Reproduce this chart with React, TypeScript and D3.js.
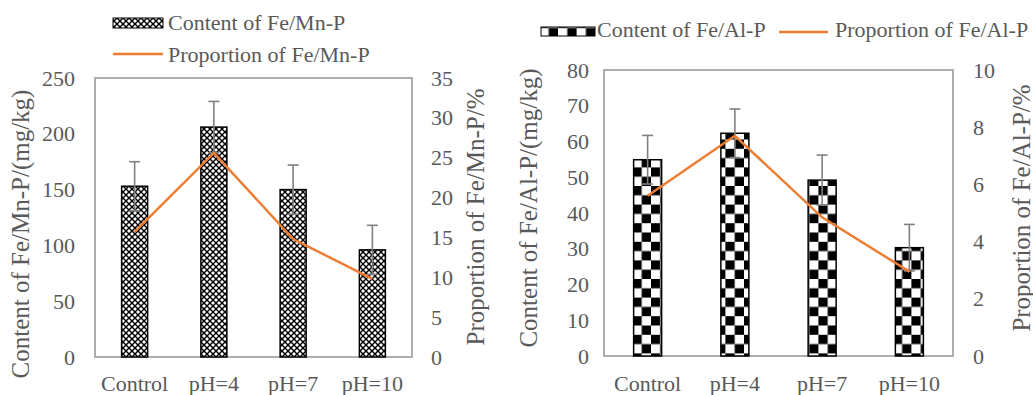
import React from "react";
import * as d3 from "d3";

const categories = ["Control", "pH=4", "pH=7", "pH=10"];
const mnContent = [153, 206, 150, 96];
const mnError = [22, 23, 22, 22];
const mnProportion = [15.7, 25.6, 14.8, 9.8];
const mnLeftTicks = [0, 50, 100, 150, 200, 250];
const mnRightTicks = [0, 5, 10, 15, 20, 25, 30, 35];

const alContent = [54.9, 62.3, 49.2, 30.3];
const alError = [6.8, 6.8, 7.0, 6.5];
const alProportion = [5.6, 7.7, 4.85, 2.95];
const alLeftTicks = [0, 10, 20, 30, 40, 50, 60, 70, 80];
const alRightTicks = [0, 2, 4, 6, 8, 10];

const TEXT = "#595959";
const FRAME = "#a6a6a6";
const ORANGE = "#ED7D31";
const ERR = "#808080";
const FONT = "'Liberation Serif', 'Times New Roman', serif";
const FS = 22;
const TFS = 25;

type PanelProps = {
  left: number; right: number; top: number; bottom: number;
  content: number[]; err: number[]; prop: number[];
  leftTicks: number[]; rightTicks: number[];
  barW: number; fill: string;
  leftLabelX: number; rightLabelX: number;
  leftTitle: string; rightTitle: string;
  leftTitleX: number; rightTitleX: number;
  leftTitleY: number; rightTitleY: number;
};

function Panel(p: PanelProps) {
  const x = d3.scaleBand<string>().domain(categories).range([p.left, p.right]);
  const yL = d3.scaleLinear().domain([0, p.leftTicks[p.leftTicks.length - 1]]).range([p.bottom, p.top]);
  const yR = d3.scaleLinear().domain([0, p.rightTicks[p.rightTicks.length - 1]]).range([p.bottom, p.top]);
  const cx = (c: string) => (x(c) as number) + x.bandwidth() / 2;
  const line = d3.line<number>().x((_, i) => cx(categories[i])).y((d) => yR(d));
  return (
    <g>
      <rect x={p.left} y={p.top} width={p.right - p.left} height={p.bottom - p.top} fill="none" stroke={FRAME} strokeWidth={1.8} />
      {p.leftTicks.map((t) => (
        <text key={"l" + t} x={p.leftLabelX} y={yL(t)} textAnchor="end" dominantBaseline="central" fill={TEXT} fontSize={FS} fontFamily={FONT}>{t}</text>
      ))}
      {p.rightTicks.map((t) => (
        <text key={"r" + t} x={p.rightLabelX} y={yR(t)} textAnchor="start" dominantBaseline="central" fill={TEXT} fontSize={FS} fontFamily={FONT}>{t}</text>
      ))}
      {categories.map((c) => (
        <text key={"x" + c} x={cx(c)} y={391} textAnchor="middle" fill={TEXT} fontSize={FS} fontFamily={FONT}>{c}</text>
      ))}
      {categories.map((c, i) => (
        <rect key={"b" + c} x={cx(c) - p.barW / 2} y={yL(p.content[i])} width={p.barW} height={p.bottom - yL(p.content[i])} fill={p.fill} stroke="#000" strokeWidth={1.5} />
      ))}
      {categories.map((c, i) => {
        const xc = cx(c);
        const y1 = yL(p.content[i] + p.err[i]);
        const y0 = yL(p.content[i] - p.err[i]);
        return (
          <g key={"e" + c} stroke={ERR} strokeWidth={1.6}>
            <line x1={xc} x2={xc} y1={y1} y2={y0} />
            <line x1={xc - 5.5} x2={xc + 5.5} y1={y1} y2={y1} />
            <line x1={xc - 5.5} x2={xc + 5.5} y1={y0} y2={y0} />
          </g>
        );
      })}
      <path d={line(p.prop) || ""} fill="none" stroke={ORANGE} strokeWidth={2.5} />
      <text transform={`translate(${p.leftTitleX},${p.leftTitleY}) rotate(-90)`} textAnchor="middle" dominantBaseline="central" fill={TEXT} fontSize={TFS} fontFamily={FONT}>{p.leftTitle}</text>
      <text transform={`translate(${p.rightTitleX},${p.rightTitleY}) rotate(-90)`} textAnchor="middle" dominantBaseline="central" fill={TEXT} fontSize={TFS} fontFamily={FONT}>{p.rightTitle}</text>
    </g>
  );
}

export default function App() {
  return (
    <svg width={1033} height={395} style={{ position: "absolute", left: 0, top: 0, background: "#fff" }}>
      <defs>
        <pattern id="mesh" patternUnits="userSpaceOnUse" width={6} height={6}>
          <rect width={6} height={6} fill="#000" />
          <polygon points="3,1 5,3 3,5 1,3" fill="#fff" />
          <polygon points="0,-2 2,0 0,2 -2,0" fill="#fff" />
          <polygon points="6,-2 8,0 6,2 4,0" fill="#fff" />
          <polygon points="0,4 2,6 0,8 -2,6" fill="#fff" />
          <polygon points="6,4 8,6 6,8 4,6" fill="#fff" />
        </pattern>
        <pattern id="checker" patternUnits="userSpaceOnUse" width={18.6} height={18.6}>
          <rect width={18.6} height={18.6} fill="#fff" />
          <rect width={9.3} height={9.3} fill="#000" />
          <rect x={9.3} y={9.3} width={9.3} height={9.3} fill="#000" />
        </pattern>
      </defs>
      <rect width={1033} height={395} fill="#fff" />

      {/* left legend */}
      <rect x={113} y={18} width={50} height={10} fill="url(#mesh)" stroke="#000" strokeWidth={1} />
      <text x={168} y={30} fill={TEXT} fontSize={FS} fontFamily={FONT}>Content of Fe/Mn-P</text>
      <line x1={113} x2={163} y1={54} y2={54} stroke={ORANGE} strokeWidth={2.5} />
      <text x={168} y={62} fill={TEXT} fontSize={FS} fontFamily={FONT}>Proportion of Fe/Mn-P</text>

      {/* right legend */}
      <rect x={541} y={27} width={54} height={9} fill="url(#checker)" stroke="#000" strokeWidth={1} />
      <text x={597} y={37} fill={TEXT} fontSize={FS} fontFamily={FONT}>Content of Fe/Al-P</text>
      <line x1={779} x2={828} y1={32} y2={32} stroke={ORANGE} strokeWidth={2.5} />
      <text x={835} y={37} fill={TEXT} fontSize={FS} fontFamily={FONT}>Proportion of Fe/Al-P</text>

      <Panel left={95} right={412} top={78} bottom={357}
        content={mnContent} err={mnError} prop={mnProportion}
        leftTicks={mnLeftTicks} rightTicks={mnRightTicks}
        barW={26} fill="url(#mesh)" leftLabelX={75} rightLabelX={431}
        leftTitle="Content of Fe/Mn-P/(mg/kg)" rightTitle="Proportion of Fe/Mn-P/%"
        leftTitleX={20} rightTitleX={475} leftTitleY={234} rightTitleY={217} />
      <Panel left={604} right={953} top={70} bottom={356}
        content={alContent} err={alError} prop={alProportion}
        leftTicks={alLeftTicks} rightTicks={alRightTicks}
        barW={28} fill="url(#checker)" leftLabelX={589} rightLabelX={973}
        leftTitle="Content of Fe/Al-P/(mg/kg)" rightTitle="Proportion of Fe/Al-P/%"
        leftTitleX={528} rightTitleX={1021} leftTitleY={208} rightTitleY={208} />
    </svg>
  );
}
